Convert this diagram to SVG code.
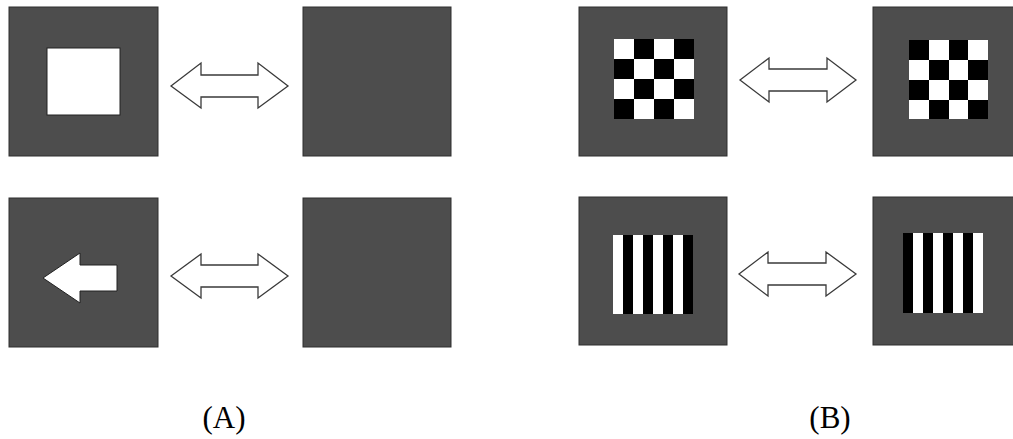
<svg xmlns="http://www.w3.org/2000/svg" width="1013" height="439" viewBox="0 0 1013 439">
<style>
.panel{fill:#4d4d4d;stroke:#2e2e2e;stroke-width:1}
.dbl{fill:#fff;stroke:#3a3a3a;stroke-width:1.3;stroke-linejoin:miter}
.w{fill:#fff}
.k{fill:#000}
.lbl{font-family:"Liberation Serif",serif;font-size:31px;fill:#000;text-anchor:middle}
</style>
<rect width="1013" height="439" fill="#fff"/>
<g id="a-top-left">
<rect class="panel" x="9" y="7" width="149" height="149"/>
<rect x="47" y="48" width="73" height="67" fill="#fff" stroke="#222" stroke-width="1"/>
</g>
<g id="a-top-right"><rect class="panel" x="303" y="7" width="148" height="149"/></g>
<g id="a-bottom-left">
<rect class="panel" x="9" y="198" width="149" height="149"/>
<polygon points="43,278 80,253 80,265 117,265 117,291 80,291 80,303" fill="#fff" stroke="#222" stroke-width="1"/>
</g>
<g id="a-bottom-right"><rect class="panel" x="303" y="198" width="148" height="149"/></g>
<g id="b-top-left">
<rect class="panel" x="579" y="7" width="148" height="149"/>
<rect class="k" x="614" y="39" width="80" height="80"/>
<g class="w">
<rect x="614" y="39" width="20" height="20"/><rect x="654" y="39" width="20" height="20"/>
<rect x="634" y="59" width="20" height="20"/><rect x="674" y="59" width="20" height="20"/>
<rect x="614" y="79" width="20" height="20"/><rect x="654" y="79" width="20" height="20"/>
<rect x="634" y="99" width="20" height="20"/><rect x="674" y="99" width="20" height="20"/>
</g>
</g>
<g id="b-top-right">
<rect class="panel" x="873" y="7" width="148" height="149"/>
<rect class="k" x="909" y="40" width="79" height="79"/>
<g class="w">
<rect x="929" y="40" width="20" height="20"/><rect x="968" y="40" width="20" height="20"/>
<rect x="909" y="60" width="20" height="20"/><rect x="949" y="60" width="19" height="20"/>
<rect x="929" y="80" width="20" height="20"/><rect x="968" y="80" width="20" height="20"/>
<rect x="909" y="100" width="20" height="19"/><rect x="949" y="100" width="19" height="19"/>
</g>
</g>
<g id="b-bottom-left">
<rect class="panel" x="579" y="197" width="148" height="148"/>
<rect class="k" x="613" y="235" width="80" height="79"/>
<g class="w">
<rect x="613" y="235" width="10" height="79"/><rect x="633" y="235" width="10" height="79"/>
<rect x="653" y="235" width="10" height="79"/><rect x="673" y="235" width="10" height="79"/>
</g>
</g>
<g id="b-bottom-right">
<rect class="panel" x="873" y="197" width="148" height="148"/>
<rect class="k" x="903" y="233" width="80" height="80"/>
<g class="w">
<rect x="913" y="233" width="10" height="80"/><rect x="933" y="233" width="10" height="80"/>
<rect x="953" y="233" width="10" height="80"/><rect x="973" y="233" width="10" height="80"/>
</g>
</g>
<g id="connectors">
<polygon class="dbl" points="171,86 201,63 201,75 258,75 258,63 288,86 258,108 258,97 201,97 201,108"/>
<polygon class="dbl" points="171,276 201,254 201,265 258,265 258,254 288,276 258,298 258,287 201,287 201,298"/>
<polygon class="dbl" points="740,80 769,58 769,69 827,69 827,58 856,80 827,102 827,91 769,91 769,102"/>
<polygon class="dbl" points="739,274 768,252 768,263 826,263 826,252 856,274 826,296 826,285 768,285 768,296"/>
</g>
<g id="labels">
<text class="lbl" x="224" y="428">(A)</text>
<text class="lbl" x="830" y="428">(B)</text>
</g>
</svg>
